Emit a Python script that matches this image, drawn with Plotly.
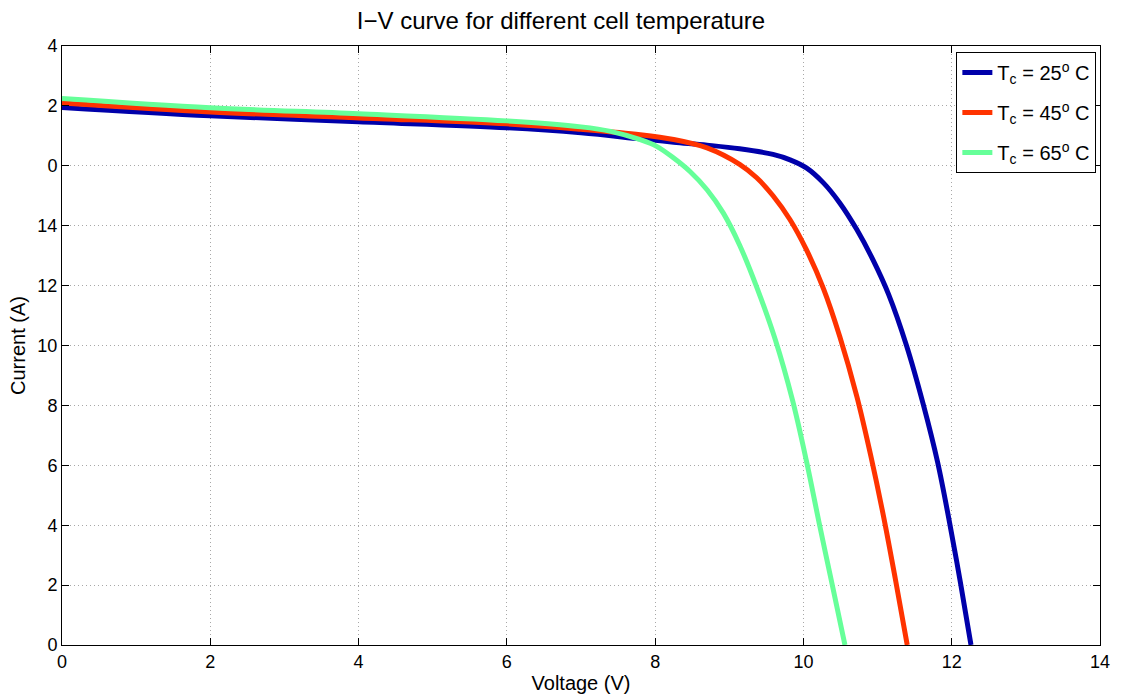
import plotly.graph_objects as go

# Data (Voltage V, Current A)
v_25 = [0, 2, 4, 6, 7, 7.8, 8.25, 8.7, 9.14, 9.59, 9.82, 10.04, 10.27, 10.49, 10.72, 10.94, 11.15, 11.39,
        11.62, 11.81, 11.97, 12.12, 12.26]
i_25 = [17.95, 17.67, 17.47, 17.27, 17.1, 16.9, 16.79, 16.69, 16.57, 16.38, 16.2, 15.93, 15.43, 14.76,
        13.87, 12.85, 11.7, 10, 8, 6.1, 4.1, 2.05, 0]

v_45 = [0, 2, 4, 6, 7, 7.8, 8.25, 8.7, 9.14, 9.37, 9.59, 9.82, 10.04, 10.27, 10.49, 10.72, 10.91, 11.08,
        11.24, 11.40]
i_45 = [18.1, 17.8, 17.6, 17.4, 17.22, 17.04, 16.88, 16.6, 16.05, 15.6, 15.0, 14.2, 13.2, 11.9, 10.3,
        8.3, 6.3, 4.3, 2.2, 0]

v_65 = [0, 2, 4, 6, 7, 7.4, 7.8, 8.02, 8.25, 8.47, 8.7, 8.92, 9.14, 9.37, 9.62, 9.85, 10.04, 10.21,
        10.385, 10.56]
i_65 = [18.25, 17.94, 17.74, 17.5, 17.3, 17.15, 16.87, 16.65, 16.26, 15.81, 15.2, 14.42, 13.35, 11.95,
        10.2, 8.2, 6.15, 4.1, 2.05, 0]

series_names = ["T<sub>c</sub> = 25<sup>o</sup> C", "T<sub>c</sub> = 45<sup>o</sup> C",
                "T<sub>c</sub> = 65<sup>o</sup> C"]
series_colors = ["#0000AA", "#FF3300", "#66FF99"]

x_ticks = [0, 2, 4, 6, 8, 10, 12, 14]
y_tickvals = [0, 2, 4, 6, 8, 10, 12, 14, 16, 18, 20]
y_ticktext = ["0", "2", "4", "6", "8", "10", "12", "14", "0", "2", "4"]

fig = go.Figure()
for k, (vx, iy, name, col) in enumerate(zip([v_25, v_45, v_65], [i_25, i_45, i_65],
                                            series_names, series_colors)):
    fig.add_trace(go.Scatter(x=vx, y=iy, mode="lines", name=name, legendgroup=f"g{k}",
                             line=dict(color=col, width=5, shape="spline", smoothing=1.0)))

axis_common = dict(showline=True, linecolor="black", linewidth=1, mirror="allticks",
                   ticks="inside", ticklen=7, tickcolor="black", automargin=False,
                   showgrid=True, gridcolor="#a8a8a8", griddash="1px,3px", gridwidth=1,
                   zeroline=False, tickfont=dict(size=18, color="black"))

fig.update_layout(
    width=1122, height=696,
    margin=dict(l=62, r=22, t=46, b=51),
    paper_bgcolor="white", plot_bgcolor="white",
    font=dict(family="Liberation Sans, Arial, sans-serif", color="black"),
    title=dict(text="I\u2212V curve for different cell temperature", x=0.5, xanchor="center",
               y=0.971, yanchor="middle", font=dict(size=24)),
    xaxis=dict(range=[0, 14], tickvals=x_ticks,
               title=dict(text="Voltage (V)", font=dict(size=20), standoff=5), **axis_common),
    yaxis=dict(range=[0, 20], tickvals=y_tickvals, ticktext=y_ticktext,
               title=dict(text="Current (A)", font=dict(size=20), standoff=6), **axis_common),
    legend=dict(x=0.9965, xanchor="right", y=0.99, yanchor="top",
                bordercolor="black", borderwidth=1, bgcolor="white",
                font=dict(size=20), tracegroupgap=11, itemwidth=30),
    showlegend=True,
)

fig.write_html("out.html")
